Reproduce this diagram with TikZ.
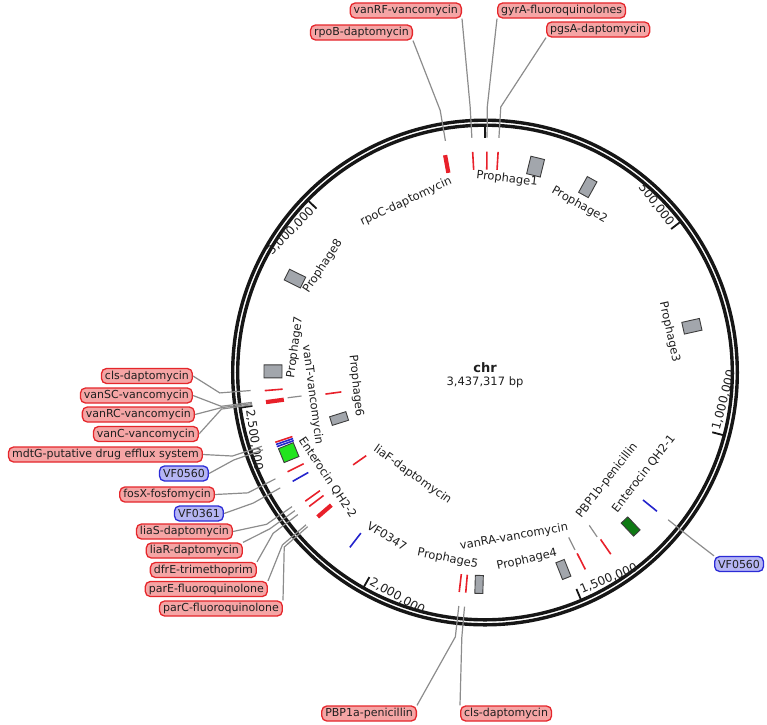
\documentclass[tikz,border=0pt]{standalone}
\usepackage{fontspec}
\setmainfont{DejaVu Sans}
\usepackage{tikz}
\usetikzlibrary{positioning,calc}
\definecolor{ink}{HTML}{1F1F1F}
\definecolor{ringc}{HTML}{161616}
\definecolor{genered}{HTML}{E8202A}
\definecolor{vfblue}{HTML}{2424CC}
\definecolor{argfill}{HTML}{F5A5A5}
\definecolor{argline}{HTML}{E5262B}
\definecolor{vffill}{HTML}{B5B5F4}
\definecolor{vfline}{HTML}{2B2BD6}
\definecolor{phagefill}{HTML}{A2A6AC}
\definecolor{phageline}{HTML}{3C3C3C}
\definecolor{leadgray}{HTML}{8C8C8C}
\definecolor{entlight}{HTML}{22E41E}
\definecolor{entdark}{HTML}{0F7A14}
\tikzset{
  ringline/.style  = {draw=ringc, line width=3.4pt},
  tickmark/.style  = {draw=ringc, line width=1.8pt},
  ticklab/.style   = {font=\fontsize{12}{14}\selectfont, text=ink, inner sep=0pt, outer sep=0pt},
  argbox/.style    = {draw=argline, fill=argfill, line width=1.3pt, rounded corners=5pt, font=\fontsize{11}{13}\selectfont, text=ink, inner xsep=3.5pt, inner ysep=0pt, minimum height=15pt},
  vfbox/.style     = {argbox, draw=vfline, fill=vffill},
  leader/.style    = {draw=leadgray, line width=1.2pt},
  genebar/.style   = {draw=genered, line width=1.6pt},
  genethick/.style = {draw=genered, line width=4.2pt},
  vfbar/.style     = {draw=vfblue, line width=1.6pt},
  phagebox/.style  = {draw=phageline, fill=phagefill, line width=0.9pt},
  entbox/.style    = {draw=phageline, line width=0.9pt},
  inlab/.style     = {font=\fontsize{11.5}{13}\selectfont, text=ink, inner sep=0pt, outer sep=0pt},
  midlab/.style    = {font=\fontsize{11.5}{13}\selectfont, text=ink, inner sep=0pt, anchor=base},
}

\begin{document}
\begin{tikzpicture}[x=1pt,y=1pt]
\path[use as bounding box] (-485,-351.5) rectangle (282,372.5);

% ---- the ring -----------------------------------------------------------
\draw[ringline] (0,0) circle (252.3);
\draw[ringline] (0,0) circle (247.3);
\foreach \a in {90,37.634,-14.733,-67.099,-119.465,-171.832,135.802}{\draw[tickmark] (\a:246) -- (\a:235);}

\node[ticklab, anchor=east, rotate=-52.366] (t500k) at (38.4:238)  {500,000};
\node[ticklab, anchor=west, rotate=75.267]  (t1m)   at (-13.9:238) {1,000,000};
\node[ticklab, anchor=west, rotate=22.901]  (t15m)  at (-66.3:238) {1,500,000};
\node[ticklab, anchor=west, rotate=-29.465] (t2m)   at (-118.7:238) {2,000,000};
\node[ticklab, anchor=west, rotate=-81.832] (t25m)  at (-171.0:238) {2,500,000};
\node[ticklab, anchor=east, rotate=45.802]  (t3m)   at (136.6:238) {3,000,000};

\node[midlab, font=\fontsize{13}{15}\selectfont\bfseries] (chr) at (0,0.5) {chr};
\node[midlab] (chrlen) at (0,-12.5) {3,437,317 bp};

% ---- features -----------------------------------------------------------
% prophages, outer track
\foreach \a/\w in {76.2/7, 61/5.5, 12.6/6, -68.3/4.5, -91.6/4, 179.7/6.5, 153.7/6}{\draw[phagebox, rotate=\a] (203,-\w) rectangle (221,\w);}
% prophage 6, inner track
\draw[phagebox, rotate=-162.5] (144.5,-4.5) rectangle (161.5,4.5);
% enterocins
\draw[entbox, fill=entlight, rotate=-157.8] (204,-7.5) rectangle (220,7.5);
\draw[entbox, fill=entdark, rotate=-46.6] (203,-4.5) rectangle (221,4.5);
% resistance genes
\foreach \a in {93.2,89.5,86.6,-175.3,-161.6,-153.3,-144.4,-142.7,-96.7,-95.0,-63.0,-55.3}{\draw[genebar] (\a:203) -- (\a:221);}
\foreach \a in {100.4,-172.3,-139.2}{\draw[genethick] (\a:203) -- (\a:221);}
\foreach \a in {-172.3,-145.0}{\draw[genebar] (\a:145) -- (\a:161);}
% virulence factors
\foreach \a in {-161.0,-160.4,-150.5,-127.7,-38.9}{\draw[vfbar] (\a:203) -- (\a:221);}

% ---- inner labels -------------------------------------------------------
\node[inlab, rotate=24.8]  (lrpoC)   at (114.8:188.4) {rpoC-daptomycin};
\node[inlab, rotate=-6.5]  (lP1)     at (83.5:194.7)  {Prophage1};
\node[inlab, rotate=-29.4] (lP2)     at (60.6:192.3)  {Prophage2};
\node[inlab, rotate=-77.6] (lP3)     at (12.4:188.9)  {Prophage3};
\node[inlab, rotate=52]    (lEntA)   at (-32.5:188)   {Enterocin QH2-1};
\node[inlab, rotate=52]    (lPBP1b)  at (-41.5:163)   {PBP1b-penicillin};
\node[inlab, rotate=10]    (lvanRA)  at (-80:167)     {vanRA-vancomycin};
\node[inlab, rotate=12.6]  (lP4)     at (-77.4:192)   {Prophage4};
\node[inlab, rotate=-11.3] (lP5)     at (-101.3:190)  {Prophage5};
\node[inlab, rotate=-30.9] (lVF0347) at (-120.9:190.6) {VF0347};
\node[inlab, rotate=-35.3] (lliaF)   at (-125.3:125.5) {liaF-daptomycin};
\node[inlab, rotate=-56.3] (lEntB)   at (-146.3:189.3) {Enterocin QH2-2};
\node[inlab, rotate=-84]   (lP6)     at (-174:129.7)  {Prophage6};
\node[inlab, rotate=-82.6] (lvanT)   at (-172.6:174)  {vanT-vancomycin};
\node[inlab, rotate=82.4]  (lP7)     at (172.4:191.7) {Prophage7};
\node[inlab, rotate=56.7]  (lP8)     at (146.7:193.9) {Prophage8};

% short leaders to the pushed-in labels
\foreach \nm/\a in {vanT/-172.7, vanRA/-63.1, PBP1b/-55.7}{
  \coordinate (\nm-o) at (\a:199);
  \coordinate (\nm-i) at (\a:185);
  \draw[leader] (\nm-o) -- (\nm-i);
}

% ---- outer labels -------------------------------------------------------
\node[argbox, anchor=east] (rpoB)  at (-72,340)   {rpoB-daptomycin};
\node[argbox, anchor=east] (vanRF) at (-23,362)   {vanRF-vancomycin};
\node[argbox, anchor=west] (gyrA)  at (12,362)    {gyrA-fluoroquinolones};
\node[argbox, anchor=west] (pgsA)  at (61,343)    {pgsA-daptomycin};

\node[argbox, anchor=east] (clsL)    at (-292,-3.5)  {cls-daptomycin};
\node[argbox, anchor=east] (vanSC)   at (-292,-23)   {vanSC-vancomycin};
\node[argbox, anchor=east] (vanRC)   at (-290,-42)   {vanRC-vancomycin};
\node[argbox, anchor=east] (vanC)    at (-286,-61.5) {vanC-vancomycin};
\node[argbox, anchor=east] (mdtG)    at (-282,-82)   {mdtG-putative drug efflux system};
\node[vfbox,  anchor=east] (VFaL)    at (-276,-101)  {VF0560};
\node[argbox, anchor=east] (fosX)    at (-270,-122)  {fosX-fosfomycin};
\node[vfbox,  anchor=east] (VFb)     at (-261,-141)  {VF0361};
\node[argbox, anchor=east] (liaS)    at (-252,-159)  {liaS-daptomycin};
\node[argbox, anchor=east] (liaR)    at (-242,-178)  {liaR-daptomycin};
\node[argbox, anchor=east] (dfrE)    at (-228,-197.5) {dfrE-trimethoprim};
\node[argbox, anchor=east] (parE)    at (-217,-216.5) {parE-fluoroquinolone};
\node[argbox, anchor=east] (parC)    at (-202,-236)  {parC-fluoroquinolone};

\node[argbox, anchor=east] (PBP1a) at (-68,-341)   {PBP1a-penicillin};
\node[argbox, anchor=west] (clsB)  at (-25,-341)   {cls-daptomycin};
\node[vfbox,  anchor=west] (VFaR)  at (229,-191.5) {VF0560};

% ---- leaders: label, bend outside the ring, end inside it ---------------
\foreach \nm/\anc/\a in {rpoB/south east/99.7, vanRF/south east/93.2, gyrA/south west/89.5, pgsA/south west/86.6,
    clsL/east/-175.6, vanSC/east/-172.7, vanRC/east/-172.4, vanC/east/-172.1, mdtG/east/-161.7, VFaL/east/-160.8,
    fosX/east/-153.1, VFb/east/-150.6, liaS/east/-145.2, liaR/north east/-144.0, dfrE/north east/-142.8,
    parE/north east/-139.6, parC/north east/-139.0, PBP1a/north east/-96.4, clsB/north west/-95.0, VFaR/north west/-38.8}{
  \coordinate (\nm-k) at (\a:266);
  \coordinate (\nm-e) at (\a:235);
  \draw[leader] (\nm.\anc) -- (\nm-k) -- (\nm-e);
}

\end{tikzpicture}
\end{document}
